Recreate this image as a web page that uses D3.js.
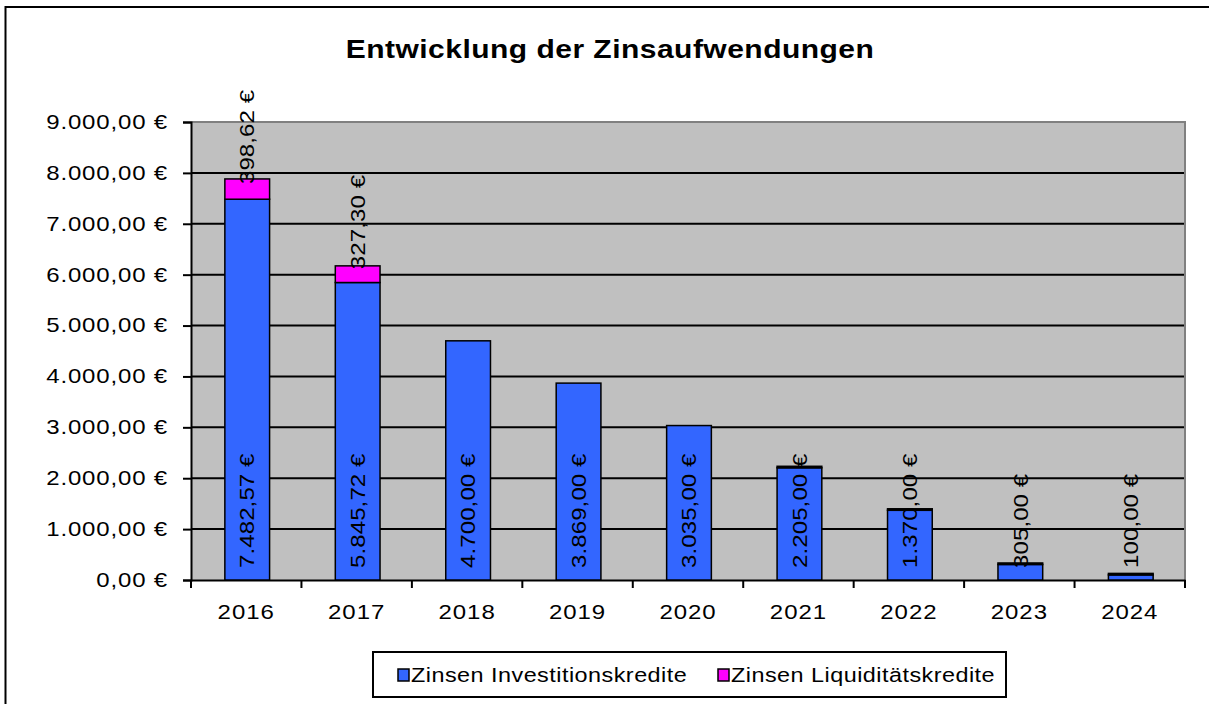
<!DOCTYPE html>
<html>
<head>
<meta charset="utf-8">
<script src="https://cdn.jsdelivr.net/npm/d3@7"></script>
<style>
  body { margin: 0; background: #fff; }
  svg text { font-family: "Liberation Sans", Arial, sans-serif; fill: #000; }
</style>
</head>
<body>
<div id="chart"></div>
<script>
// data
var years = ["2016", "2017", "2018", "2019", "2020", "2021", "2022", "2023", "2024"];
var invest = [7482.57, 5845.72, 4700, 3869, 3035, 2205, 1370, 305, 100];
var liquid = [398.62, 327.30, null, null, null, 0, 0, 0, 0]; // null = no value
var yTicks = [0, 1000, 2000, 3000, 4000, 5000, 6000, 7000, 8000, 9000];
var seriesNames = ["Zinsen Investitionskredite", "Zinsen Liquiditätskredite"];
var colors = ["#3366FF", "#FF00FF"];

var width = 1209, height = 704;
var plot = {left: 191, right: 1185, top: 122, bottom: 580};
var sx = 1.2; // the excel fonts look horizontally wider than plain arial

function euro(v) {
  // german number format
  var s = v.toFixed(2).split(".");
  var intPart = s[0].replace(/\B(?=(\d{3})+(?!\d))/g, ".");
  return intPart + "," + s[1] + " €";
}

var svg = d3.select("#chart").append("svg")
  .attr("width", width)
  .attr("height", height);

// outer frame
svg.append("rect")
  .attr("x", 5.5).attr("y", 7)
  .attr("width", 1240).attr("height", 740)
  .attr("fill", "#fff")
  .attr("stroke", "#000")
  .attr("stroke-width", 2);

// title
svg.append("text")
  .attr("transform", "translate(610,58) scale(" + sx + ",1)")
  .attr("text-anchor", "middle")
  .style("font-size", "25px")
  .style("font-weight", "bold")
  .style("letter-spacing", "0.4px")
  .text("Entwicklung der Zinsaufwendungen");

var x = d3.scaleBand()
  .domain(years)
  .range([plot.left, plot.right])
  .paddingInner(0)
  .paddingOuter(0);

var y = d3.scaleLinear()
  .domain([0, 9000])
  .range([plot.bottom, plot.top]);

// plot background
svg.append("rect")
  .attr("x", plot.left).attr("y", plot.top)
  .attr("width", plot.right - plot.left)
  .attr("height", plot.bottom - plot.top)
  .attr("fill", "#C0C0C0");

// grid lines
svg.append("g")
  .selectAll("line")
  .data(yTicks.filter(d => d > 0))
  .join("line")
  .attr("x1", plot.left).attr("x2", plot.right)
  .attr("y1", d => y(d)).attr("y2", d => y(d))
  .attr("stroke", "#000")
  .attr("stroke-width", 2);

// plot area top/right border (grey)
svg.append("path")
  .attr("d", "M" + plot.left + "," + plot.top + "H" + plot.right + "V" + plot.bottom)
  .attr("fill", "none")
  .attr("stroke", "#808080")
  .attr("stroke-width", 2);

// y axis
var yAxis = svg.append("g")
  .attr("transform", "translate(" + plot.left + ",0)")
  .call(d3.axisLeft(y).tickValues(yTicks).tickSize(8).tickPadding(15).tickFormat(euro));
yAxis.select(".domain").attr("stroke", "#000").attr("stroke-width", 2);
yAxis.selectAll(".tick line").attr("stroke", "#000").attr("stroke-width", 2);
yAxis.selectAll("text")
  .attr("x", -23 / sx)
  .attr("transform", "scale(" + sx + ",1)")
  .style("font-size", "20px")
  .style("letter-spacing", "0.7px")
  .attr("font-family", null);

// x axis with ticks at band boundaries
var xAxis = svg.append("g")
  .attr("transform", "translate(0," + plot.bottom + ")")
  .call(d3.axisBottom(x).tickSize(0).tickPadding(25));
xAxis.select(".domain").attr("stroke", "#000").attr("stroke-width", 2);
xAxis.selectAll(".tick text")
  .attr("transform", "scale(" + sx + ",1)")
  .style("font-size", "20px")
  .style("letter-spacing", "0.8px")
  .attr("font-family", null);
xAxis.append("g")
  .selectAll("line")
  .data(years.map(d => x(d)).concat([plot.right]))
  .join("line")
  .attr("x1", d => d).attr("x2", d => d)
  .attr("y1", 0).attr("y2", 8)
  .attr("stroke", "#000")
  .attr("stroke-width", 2);

var barW = x.bandwidth() * 0.405;
function barX(d) { return x(d) + (x.bandwidth() - barW) / 2 + 1; }

// invest bars
svg.append("g")
  .selectAll("rect")
  .data(years)
  .join("rect")
  .attr("x", d => barX(d))
  .attr("width", barW)
  .attr("y", (d, i) => y(invest[i]))
  .attr("height", (d, i) => y(0) - y(invest[i]))
  .attr("fill", colors[0])
  .attr("stroke", "#000")
  .attr("stroke-width", 1.5);

// liquid bars stacked on top (zero values still get a border line)
var liqData = years.map((d, i) => ({year: d, base: invest[i], v: liquid[i]}))
  .filter(d => d.v !== null);
svg.append("g")
  .selectAll("rect")
  .data(liqData)
  .join("rect")
  .attr("x", d => barX(d.year))
  .attr("width", barW)
  .attr("y", d => y(d.base + d.v) - (d.v > 0 ? 0 : 1.5))
  .attr("height", d => Math.max(1.5, y(d.base) - y(d.base + d.v)))
  .attr("fill", d => d.v > 0 ? colors[1] : "#000")
  .attr("stroke", "#000")
  .attr("stroke-width", 1.5);

// invest labels (rotated, from bar base)
svg.append("g")
  .selectAll("text")
  .data(years)
  .join("text")
  .attr("transform", d => "translate(" + (barX(d) + barW / 2) + "," + (y(0) - 12) + ") rotate(-90) scale(" + sx + ",1)")
  .attr("dy", "0.36em")
  .attr("text-anchor", "start")
  .style("font-size", "20px")
  .style("letter-spacing", "0.1px")
  .text((d, i) => euro(invest[i]));

// liquid labels
svg.append("g")
  .selectAll("text")
  .data(liqData.filter(d => d.v > 0))
  .join("text")
  .attr("transform", d => "translate(" + (barX(d.year) + barW / 2) + "," + (y(d.base + d.v / 2) - 5) + ") rotate(-90) scale(" + sx + ",1)")
  .attr("dy", "0.36em")
  .attr("text-anchor", "start")
  .style("font-size", "20px")
  .style("letter-spacing", "0.1px")
  .text(d => euro(d.v));

// legend
var legend = svg.append("g");
legend.append("rect")
  .attr("x", 373).attr("y", 652)
  .attr("width", 633).attr("height", 45)
  .attr("fill", "#fff")
  .attr("stroke", "#000")
  .attr("stroke-width", 2);
var legX = [398, 718];
seriesNames.forEach(function(name, i) {
  legend.append("rect")
    .attr("x", legX[i]).attr("y", 669)
    .attr("width", 11).attr("height", 12)
    .attr("fill", colors[i])
    .attr("stroke", "#000")
    .attr("stroke-width", 1.5);
  legend.append("text")
    .attr("transform", "translate(" + (legX[i] + 13) + ",682) scale(" + sx + ",1)")
    .style("font-size", "19.5px")
    .style("letter-spacing", "0.4px")
    .text(name);
});
</script>
</body>
</html>
